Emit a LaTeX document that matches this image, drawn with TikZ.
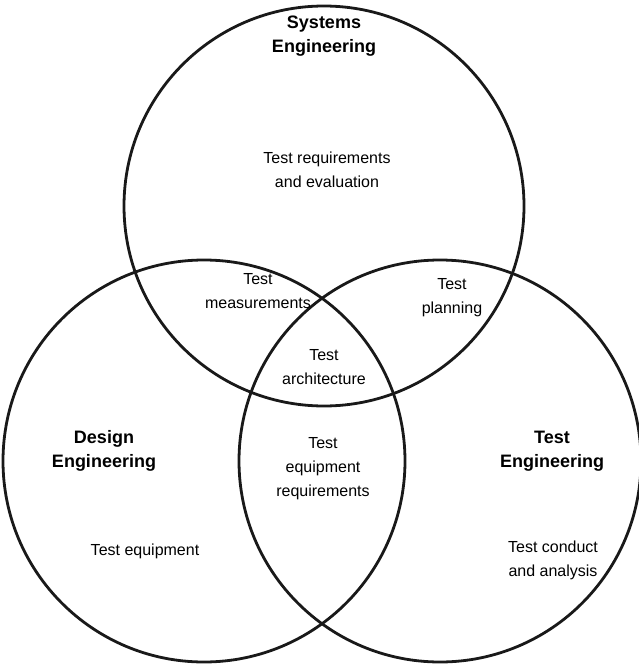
\documentclass[tikz,border=0pt]{standalone}
\usepackage{fontspec}
\setmainfont{Liberation Sans}
\begin{document}
\begin{tikzpicture}[x=1pt,y=-1pt,
  ring/.style={draw=black!90,line width=2.8pt},
  lbl/.style={align=center,inner sep=0pt,font=\fontsize{16}{24}\selectfont},
  head/.style={align=center,inner sep=0pt,font=\fontsize{18}{24}\selectfont\bfseries}]
\useasboundingbox (0,0) rectangle (638,666);
\draw[ring] (324,206) circle (200);
\draw[ring] (204,461) circle (201);
\draw[ring] (440,461) circle (201);
\node[head] (sys) at (324,36) {Systems\\Engineering};
\node[lbl] (treq) at (327,170) {Test requirements\\and evaluation};
\node[lbl] (tmeas) at (258,291) {Test\\measurements};
\node[lbl] (tplan) at (452,298) {Test\\planning};
\node[lbl] (tarch) at (324,367) {Test\\architecture};
\node[head] (des) at (104,451) {Design\\Engineering};
\node[lbl] (teqr) at (323,469) {Test\\equipment\\requirements};
\node[head] (teng) at (552,451) {Test\\Engineering};
\node[lbl] (teq) at (145,551) {Test equipment};
\node[lbl] (tcon) at (553,560) {Test conduct\\and analysis};
\end{tikzpicture}
\end{document}
